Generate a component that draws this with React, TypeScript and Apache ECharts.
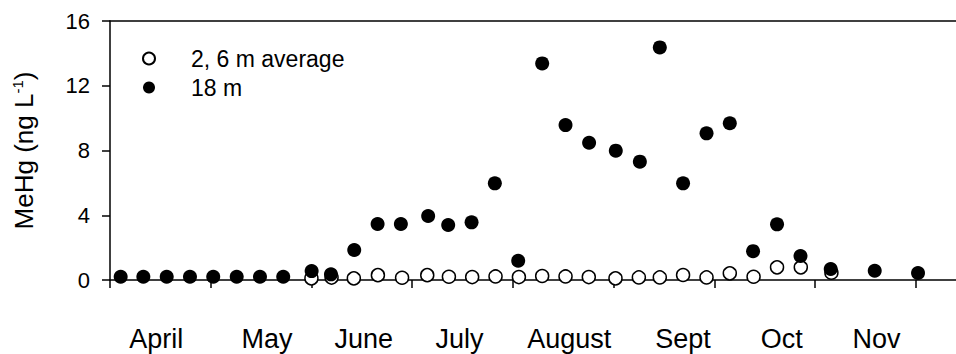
import React, { useEffect, useRef } from "react";
import * as echarts from "echarts";

// x positions are in months since 1 April (0 = April 1, 1 = May 1, ...)
const monthNames = ["April", "May", "June", "July", "August", "Sept", "Oct", "Nov"];
const monthLabelPos = [0.46, 1.56, 2.52, 3.47, 4.56, 5.69, 6.67, 7.61];
const monthTicks = [0, 1, 2, 3, 4, 5, 6, 7, 8];
const yTicks = [0, 4, 8, 12, 16];

// MeHg at 18 m
const deepX = [
  0.106, 0.331, 0.563, 0.794, 1.025, 1.258, 1.489, 1.72, 2.002, 2.194, 2.425,
  2.657, 2.888, 3.159, 3.358, 3.59, 3.821, 4.053, 4.291, 4.523, 4.757, 5.022,
  5.261, 5.459, 5.69, 5.923, 6.154, 6.385, 6.623, 6.856, 7.156, 7.593, 8.023,
];
const deepY = [
  0.2, 0.2, 0.2, 0.2, 0.2, 0.2, 0.2, 0.2, 0.55, 0.35, 1.85, 3.46, 3.46, 3.95,
  3.4, 3.56, 5.97, 1.19, 13.38, 9.57, 8.48, 7.99, 7.31, 14.37, 5.97, 9.06, 9.68,
  1.78, 3.44, 1.48, 0.68, 0.57, 0.43,
];

// MeHg averaged over 2 and 6 m
const surfX = [
  2.0, 2.2, 2.421, 2.66, 2.9, 3.15, 3.365, 3.596, 3.828, 4.06, 4.291, 4.523,
  4.754, 5.019, 5.251, 5.459, 5.69, 5.923, 6.154, 6.39, 6.623, 6.859, 7.163,
];
const surfY = [
  0.1, 0.15, 0.1, 0.3, 0.14, 0.3, 0.2, 0.18, 0.22, 0.18, 0.25, 0.22, 0.18, 0.1,
  0.16, 0.16, 0.31, 0.16, 0.41, 0.2, 0.78, 0.78, 0.45,
];

const FONT = "'Liberation Sans', Arial, Helvetica, sans-serif";
const X_MAX = 8.4;

export default function App() {
  const ref = useRef<HTMLDivElement>(null);

  useEffect(() => {
    if (!ref.current) return;
    const chart = echarts.init(ref.current, undefined, { renderer: "svg" });
    const axisLine = { show: true, lineStyle: { color: "#000", width: 1.5 } };

    chart.setOption({
      animation: false,
      backgroundColor: "#fff",
      textStyle: { fontFamily: FONT, color: "#000" },
      grid: { left: 110, top: 21, right: 0, bottom: 74, containLabel: false },
      legend: {
        orient: "vertical",
        left: 137,
        top: 42,
        itemWidth: 12,
        itemHeight: 12,
        itemGap: 6,
        icon: "circle",
        textStyle: {
          fontFamily: FONT,
          fontSize: 23,
          lineHeight: 23,
          color: "#000",
          padding: [0, 0, 0, 31],
        },
        data: ["2, 6 m average", "18 m"],
      },
      xAxis: [
        {
          type: "value",
          min: 0,
          max: X_MAX,
          interval: 1,
          axisLine,
          splitLine: { show: false },
          axisTick: {
            show: true,
            inside: false,
            length: 8,
            customValues: monthTicks,
            lineStyle: { color: "#000", width: 1.5 },
          },
          axisLabel: {
            show: true,
            customValues: monthLabelPos,
            margin: 45,
            fontSize: 27,
            fontFamily: FONT,
            color: "#000",
            formatter: (v: number) => {
              const i = monthLabelPos.findIndex((p) => Math.abs(p - v) < 1e-6);
              return i >= 0 ? monthNames[i] : "";
            },
          },
        },
        {
          type: "value",
          position: "top",
          min: 0,
          max: X_MAX,
          interval: 1,
          axisLine,
          axisTick: { show: false },
          axisLabel: { show: false },
          splitLine: { show: false },
        },
      ],
      yAxis: {
        type: "value",
        min: 0,
        max: 16,
        interval: 4,
        axisLine,
        splitLine: { show: false },
        axisTick: {
          show: true,
          length: 8,
          customValues: yTicks,
          lineStyle: { color: "#000", width: 1.5 },
        },
        axisLabel: {
          margin: 20,
          fontSize: 22,
          fontFamily: FONT,
          color: "#000",
          customValues: yTicks,
        },
        name: "MeHg (ng L{sup|-1})",
        nameLocation: "middle",
        nameGap: 73,
        nameRotate: 90,
        nameTextStyle: {
          fontSize: 26,
          fontFamily: FONT,
          color: "#000",
          rich: {
            sup: { fontSize: 15, fontFamily: FONT, color: "#000", verticalAlign: "top", padding: [0, 0, 12, 0] },
          },
        },
      },
      series: [
        {
          name: "2, 6 m average",
          type: "scatter",
          symbol: "circle",
          symbolSize: 13,
          itemStyle: { color: "#fff", borderColor: "#000", borderWidth: 1.5, opacity: 1 },
          data: surfX.map((x, i) => [x, surfY[i]]),
        },
        {
          name: "18 m",
          type: "scatter",
          symbol: "circle",
          symbolSize: 14,
          itemStyle: { color: "#000", opacity: 1 },
          data: deepX.map((x, i) => [x, deepY[i]]),
        },
      ],
    });

    return () => chart.dispose();
  }, []);

  return (
    <div
      ref={ref}
      style={{ position: "fixed", left: 0, top: 0, width: 956, height: 354, background: "#fff" }}
    />
  );
}
